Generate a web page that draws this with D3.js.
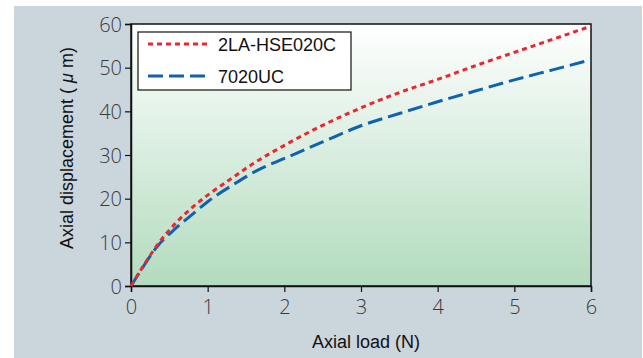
<!DOCTYPE html>
<html>
<head>
<meta charset="utf-8">
<script src="https://cdn.jsdelivr.net/npm/d3@7"></script>
<style>
  html, body { margin: 0; padding: 0; background: #ffffff; }
  svg { display: block; }
</style>
</head>
<body>
<svg id="chart" width="643" height="358"></svg>
<script>
// ---- data ----
const seriesNames = ["2LA-HSE020C", "7020UC"];
const loadRed = [0, 0.14, 0.36, 0.6, 0.8, 1, 1.3, 1.6, 2, 2.5, 3, 3.5, 4, 4.5, 5, 5.5, 6];
const dispRed = [0, 4, 9.8, 14.7, 18, 20.8, 24.5, 28.1, 32.2, 36.8, 40.8, 44.3, 47.3, 50.5, 53.5, 56.5, 59.5];
const loadBlue = [0, 0.14, 0.34, 0.57, 0.8, 1, 1.36, 1.66, 2, 2.5, 3, 3.5, 4, 4.5, 5, 5.5, 6];
const dispBlue = [0, 3.9, 9, 13, 16.4, 19.3, 23.5, 26.6, 29.2, 33, 36.7, 39.5, 42.2, 44.7, 47.2, 49.5, 51.8];
const xTicks = [0, 1, 2, 3, 4, 5, 6];
const yTicks = [0, 10, 20, 30, 40, 50, 60];
const xTitle = "Axial load (N)";

// ---- layout ----
const svg = d3.select("#chart");
const L = 131, R = 591, T = 24, B = 286;
const x = d3.scaleLinear().domain([0, 6]).range([L, R]);
const y = d3.scaleLinear().domain([0, 60]).range([B, T]);

// outer panel
svg.append("rect").attr("x", 14).attr("y", 6).attr("width", 628).attr("height", 352).attr("fill", "#cbd5dc");

// gradient
const defs = svg.append("defs");
const grad = defs.append("linearGradient").attr("id", "bg").attr("x1", 0).attr("y1", 0).attr("x2", 0).attr("y2", 1);
grad.append("stop").attr("offset", "0%").attr("stop-color", "#ffffff");
grad.append("stop").attr("offset", "100%").attr("stop-color", "#b2dbbe");

svg.append("rect").attr("x", L).attr("y", T).attr("width", R - L).attr("height", B - T)
  .attr("fill", "url(#bg)").attr("stroke", "#111").attr("stroke-width", 1.5);

// axes
const tickFont = "'Open Sans', 'Liberation Sans', sans-serif";
const xAxis = svg.append("g").attr("transform", `translate(0,${B})`)
  .call(d3.axisBottom(x).tickValues(xTicks).tickSize(6).tickPadding(8).tickFormat(d3.format("d")));
const yAxis = svg.append("g").attr("transform", `translate(${L},0)`)
  .call(d3.axisLeft(y).tickValues(yTicks).tickSize(6).tickPadding(3).tickFormat(d3.format("d")));
[xAxis, yAxis].forEach(g => {
  g.attr("font-size", 20).attr("font-family", tickFont);
  g.select(".domain").attr("stroke", "#111").attr("stroke-width", 1.5);
  g.selectAll(".tick line").attr("stroke", "#111").attr("stroke-width", 1.2);
  g.selectAll(".tick text").attr("fill", "#3a3a3a").attr("font-weight", 300);
});
xAxis.selectAll(".tick text").attr("dy", "0.72em");
yAxis.selectAll(".tick text").attr("dy", "0.36em");

// lines
const line = d3.line().x(d => x(d[0])).y(d => y(d[1])).curve(d3.curveMonotoneX);
const redPts = loadRed.map((v, i) => [v, dispRed[i]]);
const bluePts = loadBlue.map((v, i) => [v, dispBlue[i]]);

svg.append("path").datum(bluePts).attr("d", line)
  .attr("fill", "none").attr("stroke", "#0f62b2").attr("stroke-width", 3).attr("stroke-dasharray", "15 6");
svg.append("path").datum(redPts).attr("d", line)
  .attr("fill", "none").attr("stroke", "#ee2430").attr("stroke-width", 3).attr("stroke-dasharray", "5 4");

// legend
const lg = svg.append("g");
lg.append("rect").attr("x", 138).attr("y", 32).attr("width", 213).attr("height", 58)
  .attr("fill", "#ffffff").attr("stroke", "#111").attr("stroke-width", 1.2);
const legendItems = [
  { name: seriesNames[0], color: "#ee2430", dash: "5 4", y: 44 },
  { name: seriesNames[1], color: "#0f62b2", dash: "15 6", y: 76 }
];
legendItems.forEach(it => {
  lg.append("line").attr("x1", 148).attr("x2", 211).attr("y1", it.y).attr("y2", it.y)
    .attr("stroke", it.color).attr("stroke-width", 3).attr("stroke-dasharray", it.dash);
  lg.append("text").attr("x", 218).attr("y", it.y + 6.5).text(it.name)
    .style("font-family", "'Liberation Sans', Arial, sans-serif").style("font-size", "18px").attr("fill", "#111");
});

// titles
svg.append("text").attr("x", 366).attr("y", 348).attr("text-anchor", "middle").text(xTitle)
  .style("font-family", "'Liberation Sans', Arial, sans-serif").style("font-size", "18px").attr("fill", "#111");
const yt = svg.append("text").attr("transform", "translate(73,148) rotate(-90)").attr("text-anchor", "middle")
  .style("font-family", "'Liberation Sans', Arial, sans-serif").style("font-size", "18px").attr("fill", "#111");
yt.append("tspan").text("Axial displacement ( ");
yt.append("tspan").style("font-style", "italic").text("μ");
yt.append("tspan").text(" m)");
</script>
</body>
</html>
